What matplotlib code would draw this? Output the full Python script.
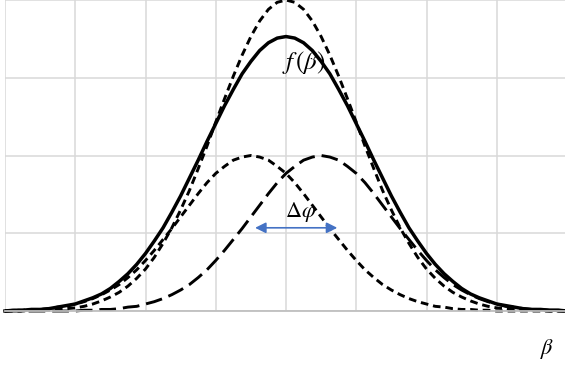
import numpy as np
import matplotlib.pyplot as plt

plt.rcParams['mathtext.fontset'] = 'stix'
plt.rcParams['lines.scale_dashes'] = False

# beta positions (grid units), step 0.125 from -4 to 4
beta = np.linspace(-4, 4, 65)

# shifted component on the left (short dash)
left_comp = [0.00, 0.01, 0.01, 0.02, 0.02, 0.03, 0.05, 0.06, 0.09, 0.12, 0.16,
             0.21, 0.27, 0.34, 0.43, 0.53, 0.65, 0.78, 0.92, 1.06, 1.21, 1.36,
             1.51, 1.65, 1.77, 1.86, 1.94, 1.98, 2.00, 1.98, 1.94, 1.86, 1.77,
             1.65, 1.51, 1.36, 1.21, 1.06, 0.92, 0.78, 0.65, 0.53, 0.43, 0.34,
             0.27, 0.21, 0.16, 0.12, 0.09, 0.06, 0.05, 0.03, 0.02, 0.02, 0.01,
             0.01, 0.00, 0.00, 0.00, 0.00, 0.00, 0.00, 0.00, 0.00, 0.00]

# shifted component on the right (long dash)
right_comp = [0.00, 0.00, 0.00, 0.00, 0.00, 0.00, 0.00, 0.00, 0.00, 0.01, 0.01,
              0.02, 0.02, 0.03, 0.05, 0.06, 0.09, 0.12, 0.16, 0.21, 0.27, 0.34,
              0.43, 0.53, 0.65, 0.78, 0.92, 1.06, 1.21, 1.36, 1.51, 1.65, 1.77,
              1.86, 1.94, 1.98, 2.00, 1.98, 1.94, 1.86, 1.77, 1.65, 1.51, 1.36,
              1.21, 1.06, 0.92, 0.78, 0.65, 0.53, 0.43, 0.34, 0.27, 0.21, 0.16,
              0.12, 0.09, 0.06, 0.05, 0.03, 0.02, 0.02, 0.01, 0.01, 0.00]

# unshifted reference curve (short dash, tallest)
tall = [0.00, 0.00, 0.00, 0.01, 0.01, 0.01, 0.02, 0.03, 0.04, 0.06, 0.09,
        0.13, 0.18, 0.24, 0.32, 0.42, 0.54, 0.69, 0.87, 1.07, 1.30, 1.55,
        1.83, 2.12, 2.43, 2.73, 3.02, 3.29, 3.53, 3.73, 3.88, 3.97, 4.00,
        3.97, 3.88, 3.73, 3.53, 3.29, 3.02, 2.73, 2.43, 2.12, 1.83, 1.55,
        1.30, 1.07, 0.87, 0.69, 0.54, 0.42, 0.32, 0.24, 0.18, 0.13, 0.09,
        0.06, 0.04, 0.03, 0.02, 0.01, 0.01, 0.01, 0.00, 0.00, 0.00]

# f(beta), solid
f_beta = [0.00, 0.01, 0.01, 0.02, 0.02, 0.03, 0.05, 0.07, 0.09, 0.13, 0.17,
          0.22, 0.29, 0.38, 0.48, 0.60, 0.74, 0.90, 1.07, 1.27, 1.48, 1.71,
          1.94, 2.18, 2.41, 2.64, 2.85, 3.05, 3.21, 3.35, 3.45, 3.51, 3.53,
          3.51, 3.45, 3.35, 3.21, 3.05, 2.85, 2.64, 2.41, 2.18, 1.94, 1.71,
          1.48, 1.27, 1.07, 0.90, 0.74, 0.60, 0.48, 0.38, 0.29, 0.22, 0.17,
          0.13, 0.09, 0.07, 0.05, 0.03, 0.02, 0.02, 0.01, 0.01, 0.00]

W, H = 565, 368
fig = plt.figure(figsize=(W / 100, H / 100), dpi=100)
ax = fig.add_axes([5 / W, 1 - 311 / H, 562 / W, 311 / H])

ax.set_xlim(-4, 4)
ax.set_ylim(0, 4)
ax.set_xticks(np.arange(-4, 5, 1))
ax.set_yticks(np.arange(0, 5, 1))
ax.grid(True, color="#d9d9d9", linewidth=1.1)
ax.set_axisbelow(True)
ax.tick_params(length=0, labelbottom=False, labelleft=False)
for s in ["top", "right", "left"]:
    ax.spines[s].set_visible(False)
ax.spines["bottom"].set_color("#bfbfbf")
ax.spines["bottom"].set_linewidth(1.3)

ax.plot(beta, tall, color="black", lw=2.1, dashes=(5.5, 3.5), clip_on=False)
ax.plot(beta, left_comp, color="black", lw=2.1, dashes=(5.5, 3.5), clip_on=False)
ax.plot(beta, right_comp, color="black", lw=2.1, dashes=(12, 5), clip_on=False)
ax.plot(beta, f_beta, color="black", lw=2.5, clip_on=False)

ax.annotate("", xy=(-0.44, 1.07), xytext=(0.73, 1.07),
            arrowprops=dict(arrowstyle="<|-|>", color="#4472C4", lw=1.2,
                            mutation_scale=16, shrinkA=0, shrinkB=0))

ax.text(0.26, 3.20, r"$f\,(\beta)$", fontsize=18, ha="center", va="center")
ax.text(0.21, 1.27, r"$\Delta\varphi$", fontsize=16, ha="center", va="center")
fig.text(547 / W, 1 - 349 / H, r"$\beta$", fontsize=16, ha="center", va="center")

fig.savefig("out.png", dpi=100)
